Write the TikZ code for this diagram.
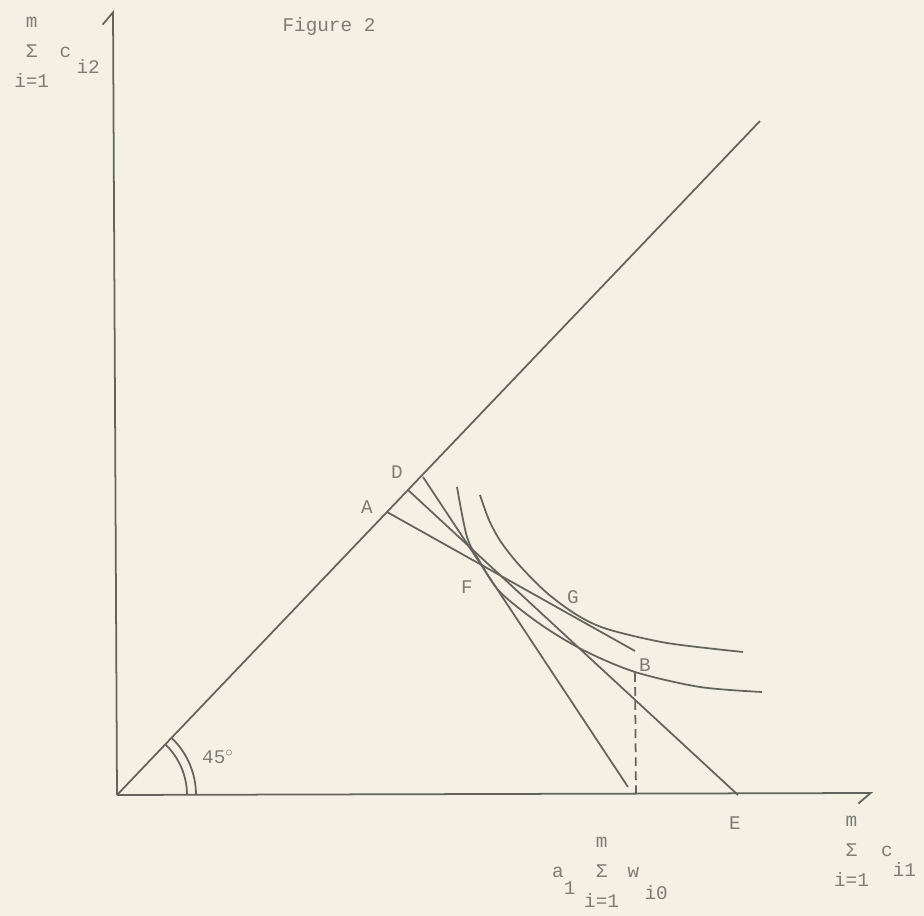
\documentclass[tikz,border=0pt]{standalone}
\usepackage{fontspec}
\setmainfont{Liberation Mono}
\usepackage{xcolor}
\usepackage{tikz}
\usetikzlibrary{arrows.meta,positioning}
\definecolor{paper}{RGB}{244,241,228}
\definecolor{ink}{RGB}{100,100,92}
\definecolor{typeink}{RGB}{125,125,116}
\newcommand{\tsum}[2]{\begin{tabular}[c]{@{}c@{}}#1\\[4pt]Σ\\[4pt]#2\end{tabular}}
\newcommand{\lowsub}[2][9pt]{\raisebox{-#1}{#2}}

\begin{document}
\begin{tikzpicture}[x=0.02cm,y=0.02cm,
  axis/.style={line width=1pt,draw=ink},
  curve/.style={line width=1pt,draw=ink},
  lbl/.style={text=typeink,font=\fontsize{11}{13}\selectfont,inner sep=0pt}]
  \fill[paper] (-117,-121) rectangle (807,795);
  \useasboundingbox (-117,-121) rectangle (807,795);
  \coordinate (O) at (0,0);
  \coordinate (Ytop) at (-4,785);
  \coordinate (Xend) at (756,2);
  \coordinate (R) at (643,674);
  \coordinate (A) at (270,283);
  \coordinate (D) at (291,305);
  \coordinate (E) at (621,0);
  \coordinate (H) at (518,144);
  \coordinate (S) at (306,318);
  \coordinate (T) at (511,8);
  \coordinate (B) at (518,122);
  \coordinate (Bfoot) at (519,0);
  \draw[axis,-{Straight Barb[left,length=7pt,width=12pt]}] (O) -- (Ytop);
  \draw[axis,-{Straight Barb[right,length=7pt,width=12pt]}] (O) -- (Xend);
  \draw[axis] (O) -- (R);
  \draw[curve] (A) -- (H);
  \draw[curve] (D) -- (E);
  \draw[curve] (S) -- (T);
  \draw[curve,dash pattern=on 5pt off 3pt] (B) -- (Bfoot);
  \draw[curve] plot[smooth] coordinates {(340,308) (350,258) (363,233) (383,203) (423,171) (466,145) (518,123) (583,108) (645,103)};
  \draw[curve] plot[smooth] coordinates {(363,300) (372,275) (384,253) (403,229) (430,202) (460,180) (490,166) (550,152) (626,143)};
  \draw[curve] (70,0) arc[start angle=0,end angle=46.3,radius=70];
  \draw[curve] (79,0) arc[start angle=0,end angle=46.3,radius=79];
  \node[lbl] (title) at (212,768) {Figure 2};
  \node[lbl] (labA) at (250,288) {A};
  \node[lbl] (labD) at (280,323) {D};
  \node[lbl] (labF) at (350,208) {F};
  \node[lbl] (labG) at (456,198) {G};
  \node[lbl] (labB) at (528,130) {B};
  \node[lbl] (labE) at (618,-28) {E};
  \node[lbl] (angle) at (101,38) {45$^\circ$};
  \node[lbl] (ylab) at (-60,742) {\tsum{m}{i=1}\hspace{6pt}c\hspace{3pt}\lowsub{i2}};
  \node[lbl] (xlab) at (758,-57) {\tsum{m}{i=1}\hspace{7pt}c\lowsub[11pt]{i1}};
  \node[lbl] (wlab) at (493,-78) {a\lowsub[9.5pt]{1}\hspace{5pt}\tsum{m}{i=1}\hspace{5pt}w\hspace{3pt}\lowsub[12.5pt]{i0}};
\end{tikzpicture}
\end{document}
